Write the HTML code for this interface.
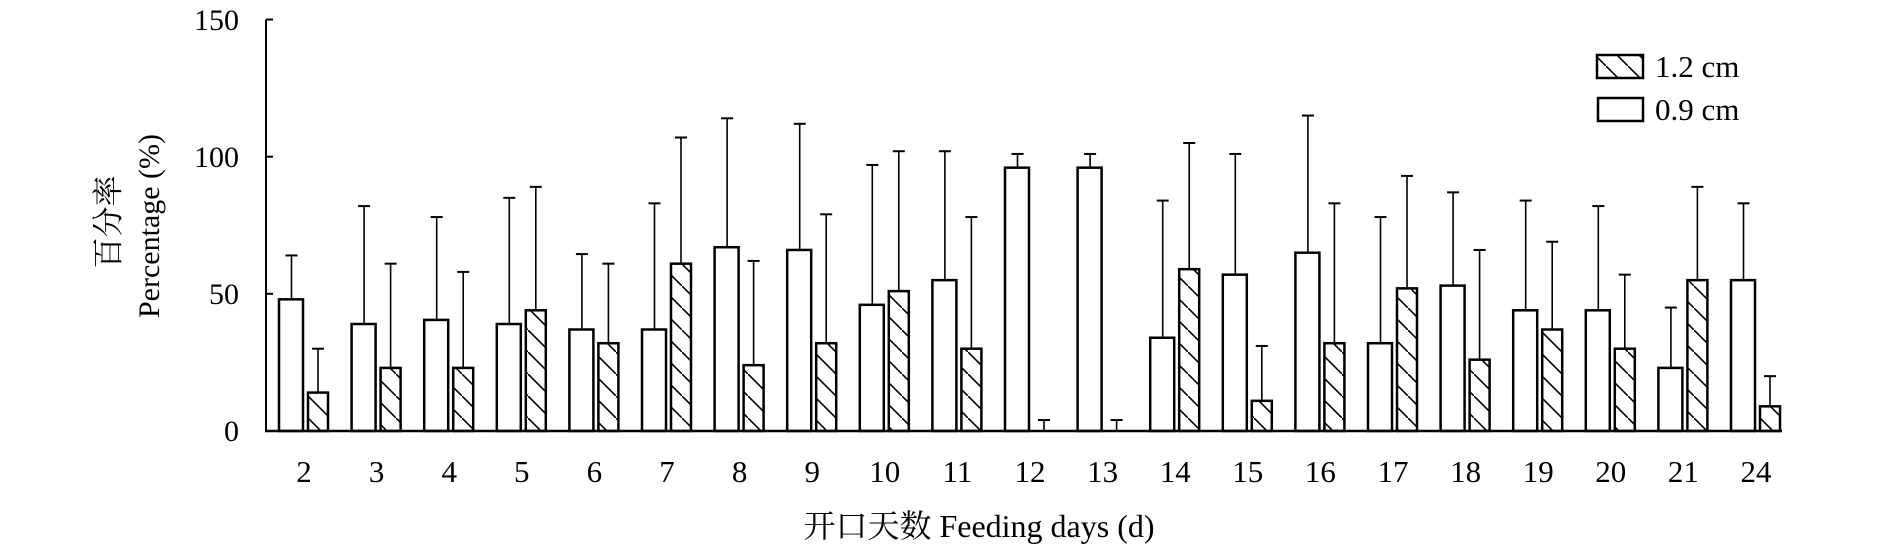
<!DOCTYPE html>
<html><head><meta charset="utf-8">
<style>
html,body{margin:0;padding:0;background:#fff;}
svg{display:block;font-family:"Liberation Serif","Noto Serif CJK SC",serif;}
</style></head>
<body>
<svg id="c" width="1890" height="549" viewBox="0 0 1890 549" xmlns="http://www.w3.org/2000/svg">
<defs>
<pattern id="h" patternUnits="userSpaceOnUse" width="22" height="22">
<line x1="-4" y1="-4" x2="26" y2="26" stroke="#000" stroke-width="1.6"/>
</pattern>
</defs>
<g id="bars"></g>
<line x1="266" y1="19.5" x2="266" y2="431" stroke="#000" stroke-width="2"/>
<line x1="265" y1="431" x2="1782" y2="431" stroke="#000" stroke-width="2.5"/>
<g stroke="#000" stroke-width="2">
<line x1="266" y1="19.5" x2="273" y2="19.5"/>
<line x1="266" y1="156.7" x2="273" y2="156.7"/>
<line x1="266" y1="293.8" x2="273" y2="293.8"/>
</g>
<g font-size="30" text-anchor="end" fill="#000">
<text x="239" y="30">150</text>
<text x="239" y="167">100</text>
<text x="239" y="304">50</text>
<text x="239" y="441">0</text>
</g>
<g id="xl" font-size="31" text-anchor="middle"></g>
<text x="112" y="222" font-size="31" text-anchor="middle" transform="rotate(-90 112 222)" dominant-baseline="middle">百分率</text>
<text x="152" y="226" font-size="30" text-anchor="middle" transform="rotate(-90 152 226)" dominant-baseline="middle">Percentage (%)</text>
<text x="979" y="537" font-size="32" text-anchor="middle">开口天数 Feeding days (d)</text>
<rect x="1597" y="55" width="46" height="23" fill="url(#h)" stroke="#000" stroke-width="2.5"/>
<rect x="1598" y="98" width="45" height="23" fill="#fff" stroke="#000" stroke-width="2.5"/>
<text x="1655" y="77" font-size="31">1.2 cm</text>
<text x="1655" y="120" font-size="31">0.9 cm</text>
</svg>
<script>
var d=[[2,48,64,14,30],[3,39,82,23,61],[4,40.5,78,23,58],[5,39,85,44,89],[6,37,64.5,32,61],[7,37,83,61,107],[8,67,114,24,62],[9,66,112,32,79],[10,46,97,51,102],[11,55,102,30,78],[12,96,101,0,4],[13,96,101,0,4],[14,34,84,59,105],[15,57,101,11,31],[16,65,115,32,83],[17,32,78,52,93],[18,53,87,26,66],[19,44,84,37,69],[20,44,82,30,57],[21,23,45,55,89],[24,55,83,9,20]];
var z=431,k=2.743,s="",t="";
function eb(x,v,e){var y1=z-v*k,y2=z-e*k;return '<line x1="'+x+'" y1="'+y1+'" x2="'+x+'" y2="'+y2+'" stroke="#000" stroke-width="1.6"/><line x1="'+(x-6)+'" y1="'+y2+'" x2="'+(x+6)+'" y2="'+y2+'" stroke="#000" stroke-width="2"/>';}
d.forEach(function(r,i){var c=304+i*72.6;
var wy=z-r[1]*k;
s+=eb(c-12.5,r[1],r[2]);
s+='<rect x="'+(c-25)+'" y="'+wy+'" width="24" height="'+(z-wy)+'" fill="#fff" stroke="#000" stroke-width="2.5"/>';
s+=eb(c+14,r[3],r[4]);
if(r[3]>0){var hy=z-r[3]*k;s+='<rect x="'+(c+4)+'" y="'+hy+'" width="20" height="'+(z-hy)+'" fill="url(#h)" stroke="#000" stroke-width="2.5"/>';}
t+='<text x="'+c+'" y="482">'+r[0]+'</text>';});
document.getElementById("bars").innerHTML=s;
document.getElementById("xl").innerHTML=t;
</script>
</body></html>
